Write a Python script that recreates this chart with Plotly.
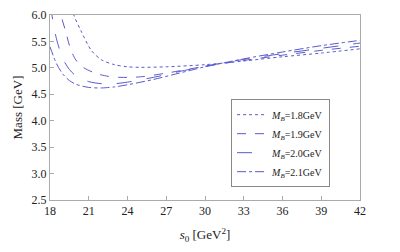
import plotly.graph_objects as go

s_18 = [19.7, 19.85, 20.4, 21.2, 22.0, 23.0, 24.0, 25.0, 27.0, 30.0, 33.0, 36.0, 39.0, 42.0]
m_18 = [6.25, 6.0, 5.7, 5.33, 5.15, 5.06, 5.02, 5.01, 5.02, 5.06, 5.13, 5.21, 5.28, 5.36]

s_19 = [18.7, 18.85, 19.2, 19.6, 20.0, 20.5, 21.5, 22.5, 23.5, 25.0, 27.0, 30.0, 33.0, 36.0, 39.0, 42.0]
m_19 = [6.25, 6.0, 5.7, 5.35, 5.15, 5.02, 4.9, 4.84, 4.82, 4.83, 4.9, 5.03, 5.14, 5.24, 5.33, 5.41]

s_20 = [18.05, 18.15, 18.5, 19.0, 19.5, 20.0, 21.0, 22.0, 23.0, 24.0, 26.0, 28.0, 30.0, 33.0, 36.0, 39.0, 42.0]
m_20 = [6.2, 6.0, 5.55, 5.17, 4.97, 4.85, 4.74, 4.7, 4.7, 4.73, 4.82, 4.93, 5.03, 5.16, 5.27, 5.37, 5.47]

s_21 = [18.0, 18.5, 19.0, 19.5, 20.0, 21.0, 22.0, 23.0, 24.0, 26.0, 28.0, 30.0, 33.0, 36.0, 39.0, 42.0]
m_21 = [5.4, 5.08, 4.88, 4.76, 4.69, 4.63, 4.62, 4.64, 4.68, 4.78, 4.9, 5.02, 5.17, 5.3, 5.42, 5.52]

names = ["<i>M<sub>B</sub></i>=1.8GeV", "<i>M<sub>B</sub></i>=1.9GeV",
         "<i>M<sub>B</sub></i>=2.0GeV", "<i>M<sub>B</sub></i>=2.1GeV"]
dashes = ["dot", "dash", "longdash", "dashdot"]
xs = [s_18, s_19, s_20, s_21]
ys = [m_18, m_19, m_20, m_21]

x_ticks = [18, 21, 24, 27, 30, 33, 36, 39, 42]
y_ticks = [2.5, 3.0, 3.5, 4.0, 4.5, 5.0, 5.5, 6.0]

SERIF = "Liberation Serif, Times New Roman, DejaVu Serif, serif"

fig = go.Figure()
for x, y, n, d in zip(xs, ys, names, dashes):
    fig.add_trace(go.Scatter(x=x, y=y, name=n, mode="lines",
                             line=dict(color="#5a5acd", width=1, dash=d, shape="spline", smoothing=0.8)))

axis_common = dict(showline=True, linecolor="#aaaaaa", linewidth=1, mirror=True,
                   ticks="inside", ticklen=4, tickcolor="#aaaaaa", showgrid=False, zeroline=False,
                   tickfont=dict(family=SERIF, size=12, color="#222"))
fig.update_xaxes(range=[18, 42], tickvals=x_ticks, ticktext=[str(v) for v in x_ticks],
                 title=dict(text="<i>s</i><sub>0</sub> [GeV<sup>2</sup>]",
                            font=dict(family=SERIF, size=13, color="#222"), standoff=12),
                 **axis_common)
fig.update_yaxes(range=[2.5, 6.0], tickvals=y_ticks, ticktext=[f"{v:.1f}" for v in y_ticks],
                 title=dict(text="Mass [GeV]", font=dict(family=SERIF, size=13, color="#222"), standoff=6),
                 **axis_common)
fig.update_layout(width=400, height=252, margin=dict(l=50, r=40, t=8, b=52),
                  plot_bgcolor="white", paper_bgcolor="white", showlegend=True,
                  legend=dict(x=0.584, y=0.545, xanchor="left", yanchor="top",
                              bordercolor="#888888", borderwidth=1, bgcolor="white",
                              font=dict(family=SERIF, size=10, color="#222"),
                              itemwidth=30, tracegroupgap=2))
fig.write_html("out.html", config={"displayModeBar": False},
               post_script="document.body.style.margin='0';document.body.style.padding='0';")
